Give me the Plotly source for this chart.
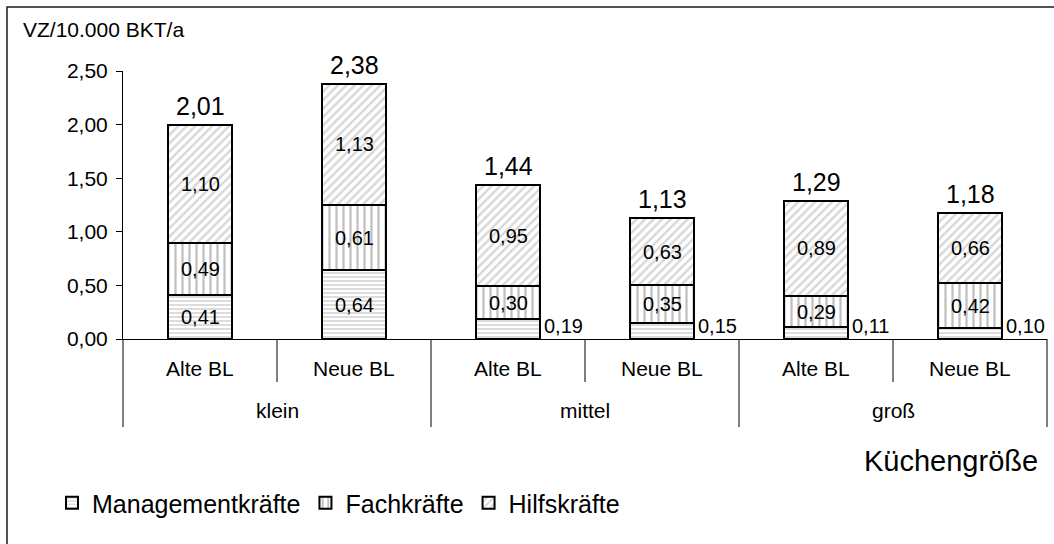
import plotly.graph_objects as go

# Staffing per 10,000 meal days (BKT) by kitchen size and federal-state group
groups = ["klein", "mittel", "groß"]
regions = ["Alte BL", "Neue BL"]
categories = [(g, r) for g in groups for r in regions]

management = [0.41, 0.64, 0.19, 0.15, 0.11, 0.10]
fachkraefte = [0.49, 0.61, 0.30, 0.35, 0.29, 0.42]
hilfskraefte = [1.10, 1.13, 0.95, 0.63, 0.89, 0.66]
total_labels = [2.01, 2.38, 1.44, 1.13, 1.29, 1.18]

y_ticks = [0.0, 0.5, 1.0, 1.5, 2.0, 2.5]

FONT = "Liberation Sans, Arial, sans-serif"
BAR_WIDTH = 0.41
W, H = 1054, 544
M_L, M_R, M_T, M_B = 123, 7, 71, 205
PLOT_W = W - M_L - M_R
PLOT_H = H - M_T - M_B


def fmt(v):
    return f"{v:.2f}".replace(".", ",")


def px_to_paper_x(px):
    return (px - M_L) / PLOT_W


def px_to_paper_y(py):
    return (H - M_B - py) / PLOT_H


x_pos = list(range(len(categories)))

series = [
    ("Managementkräfte", management, dict(shape="-", fgcolor="#9a9a9a", size=4, solidity=0.35)),
    ("Fachkräfte", fachkraefte, dict(shape="|", fgcolor="#808080", size=7, solidity=0.32)),
    ("Hilfskräfte", hilfskraefte, dict(shape="/", fgcolor="#b0b0b0", size=6, solidity=0.4)),
]

fig = go.Figure()
for name, vals, pattern in series:
    fig.add_trace(go.Bar(
        name=name,
        x=x_pos,
        y=vals,
        width=BAR_WIDTH,
        marker=dict(
            color="white",
            line=dict(color="black", width=2),
            pattern=dict(bgcolor="white", fillmode="overlay", **pattern),
        ),
        hoverinfo="skip",
    ))

annotations = []
label_font = dict(size=20, color="black", family=FONT)

# segment value labels: inside when the segment is tall enough, else to the right
for i in x_pos:
    base = 0.0
    for _, vals, _ in series:
        v = vals[i]
        if v >= 0.25:
            annotations.append(dict(
                x=i, y=base + v / 2, xref="x", yref="y", text=fmt(v),
                xanchor="center", yanchor="middle",
                showarrow=False, font=label_font,
            ))
        else:
            annotations.append(dict(
                x=i + BAR_WIDTH / 2, y=base, xref="x", yref="y", text=fmt(v),
                xanchor="left", yanchor="bottom", xshift=2,
                showarrow=False, font=label_font,
            ))
        base += v

# totals above each stack
for i in x_pos:
    top = management[i] + fachkraefte[i] + hilfskraefte[i]
    annotations.append(dict(
        x=i, y=top, xref="x", yref="y", text=fmt(total_labels[i]),
        xanchor="center", yanchor="bottom", yshift=3, showarrow=False,
        font=dict(size=25, color="black", family=FONT),
    ))

# category axis labels (two levels)
axis_font = dict(size=21, color="black", family=FONT)
for i, (g, r) in enumerate(categories):
    annotations.append(dict(
        x=i, y=px_to_paper_y(368), xref="x", yref="paper", text=r,
        xanchor="center", yanchor="middle", showarrow=False, font=axis_font,
    ))
for gi, g in enumerate(groups):
    annotations.append(dict(
        x=gi * len(regions) + (len(regions) - 1) / 2, y=px_to_paper_y(411),
        xref="x", yref="paper", text=g,
        xanchor="center", yanchor="middle", showarrow=False, font=axis_font,
    ))

# axis titles
annotations.append(dict(
    x=px_to_paper_x(21), y=px_to_paper_y(30), xref="paper", yref="paper",
    text="VZ/10.000 BKT/a", xanchor="left", yanchor="middle", showarrow=False,
    font=axis_font,
))
annotations.append(dict(
    x=px_to_paper_x(1040), y=px_to_paper_y(461), xref="paper", yref="paper",
    text="Küchengröße", xanchor="right", yanchor="middle", showarrow=False,
    font=dict(size=29, color="black", family=FONT),
))

shapes = []
n = len(categories)
# dividers below the baseline: short between regions, long between size groups
for k in range(n + 1):
    long_line = k % len(regions) == 0
    shapes.append(dict(
        type="line", xref="paper", yref="paper",
        x0=k / n, x1=k / n, y0=0, y1=px_to_paper_y(427 if long_line else 382),
        line=dict(color="black", width=1),
    ))

# outer chart frame
shapes.append(dict(
    type="rect", xref="paper", yref="paper",
    x0=px_to_paper_x(7), x1=1.3, y0=-1.5, y1=px_to_paper_y(7),
    line=dict(color="#1a1a1a", width=1.5), fillcolor="rgba(0,0,0,0)",
))

fig.update_layout(
    width=W, height=H,
    margin=dict(l=M_L, r=M_R, t=M_T, b=M_B, pad=0),
    barmode="stack",
    plot_bgcolor="white", paper_bgcolor="white",
    separators=",.",
    font=dict(family=FONT, color="black"),
    xaxis=dict(
        range=[-0.5, n - 0.5], showticklabels=False, ticks="",
        showgrid=False, zeroline=False, showline=True,
        linecolor="black", linewidth=1,
    ),
    yaxis=dict(
        range=[0, 2.5], tickvals=y_ticks, tickformat=".2f",
        ticks="outside", ticklen=6, tickcolor="black", tickwidth=1,
        ticklabelstandoff=4,
        showgrid=False, zeroline=False, showline=True,
        linecolor="black", linewidth=1,
        tickfont=dict(size=21, color="black", family=FONT),
    ),
    showlegend=True,
    legend=dict(
        orientation="h", x=px_to_paper_x(52), xanchor="left",
        y=px_to_paper_y(503), yanchor="middle",
        font=dict(size=25, color="black", family=FONT),
        bgcolor="rgba(0,0,0,0)", traceorder="normal",
        itemclick=False, itemdoubleclick=False,
    ),
    annotations=annotations,
    shapes=shapes,
)

fig.write_html("out.html")
